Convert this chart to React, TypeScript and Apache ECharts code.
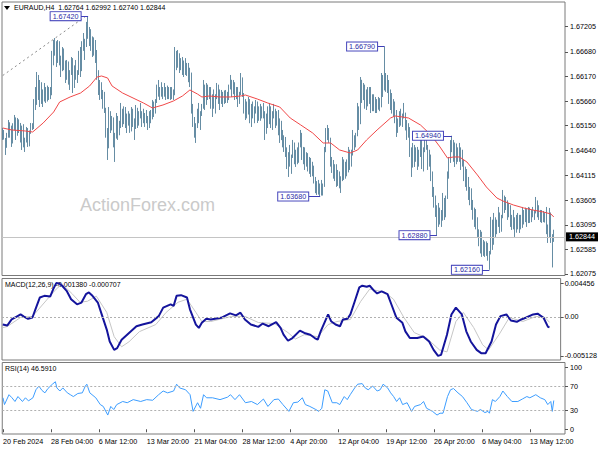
import React, { useEffect, useRef } from "react";
import * as echarts from "echarts";

const FONT = "Liberation Sans";
const BAR = "#55809a";

// layout of the time axis: 376 H4 slots, a label every 32 bars
const N_SLOTS = 376;
const LABEL_STEP = 32;
const xLabels = [
  "20 Feb 2024", "28 Feb 04:00", "6 Mar 12:00", "13 Mar 20:00", "21 Mar 04:00", "28 Mar 12:00",
  "4 Apr 20:00", "12 Apr 04:00", "19 Apr 12:00", "26 Apr 20:00", "6 May 04:00", "13 May 12:00",
];

// price-axis tick labels
const priceTicks = [1.62075, 1.62585, 1.63095, 1.63605, 1.64115, 1.6464, 1.6515, 1.6566, 1.6617, 1.6668, 1.67205];
const macdTicks = [-0.005128, 0, 0.004456];
const rsiTicks = [0, 30, 70, 100];
const lastPrice = 1.62844;

// EURAUD H4 bars: [open, high, low, close], in 1e-5 above 1.6 (e.g. 2844 = 1.62844)
const bars = [
  [5020,5101,4853,4910],[4910,5060,4860,4880],[4880,4894,4542,4700],[4700,5000,4690,4950],[4950,5267,4900,5180],[5180,5220,4900,4960],[4960,5150,4708,4800],[4800,5200,4780,5150],
  [5150,5371,5050,5250],[5250,5320,4853,4950],[4950,5309,4940,5200],[5200,5280,4997,5050],[5050,5205,4800,4900],[4900,5150,4645,5100],[5100,5180,4700,4750],[4750,4900,4604,4850],
  [4850,5122,4800,5050],[5050,5100,4708,4800],[4800,5050,4720,5000],[5000,5205,4980,5150],[5150,5200,5060,5100],[5100,5700,5080,5620],[5620,5950,5474,5600],[5600,6262,5580,6100],
  [6100,6200,5682,5800],[5800,6096,5536,5950],[5950,6050,5600,5700],[5700,5900,5536,5850],[5850,6034,5650,5750],[5750,5950,5620,5900],[5900,5980,5650,5700],[5700,5950,5682,5900],
  [5900,5950,5700,5800],[5800,6700,5780,6600],[6600,6925,6400,6800],[6800,6966,6600,6650],[6650,6900,6366,6500],[6500,6925,6450,6850],[6850,6900,6400,6450],[6450,6600,6158,6300],
  [6300,6780,6280,6700],[6700,6750,6300,6400],[6400,6500,6034,6150],[6150,6511,6100,6450],[6450,6480,6000,6050],[6050,6300,5889,6250],[6250,6573,6200,6500],[6500,6550,5826,5950],
  [5950,6400,5930,6350],[6350,6511,6100,6150],[6150,6300,6034,6250],[6250,6700,6200,6650],[6650,6780,6158,6300],[6300,6900,6280,6850],[6850,7070,6700,6800],[6800,6950,6511,6900],
  [6900,7300,6780,7200],[7200,7420,6950,7050],[7050,7195,6800,7100],[7100,7150,6700,6800],[6800,7000,6573,6950],[6950,6980,6600,6700],[6700,6925,6449,6550],[6550,6718,6100,6200],
  [6200,6300,5785,5900],[5900,6096,5682,6000],[6000,6050,5700,5750],[5750,5889,5500,5800],[5800,5850,5412,5500],[5500,5520,4900,5000],[5000,5100,4438,4700],[4700,5536,4680,5400],
  [5400,5450,4997,5100],[5100,5350,5050,5300],[5300,5320,4700,4800],[4800,5000,4397,4900],[4900,5412,4880,5300],[5300,5350,4853,5000],[5000,5250,4950,5150],[5150,5620,5100,5450],
  [5450,5500,5122,5200],[5200,5550,5180,5500],[5500,5536,5100,5150],[5150,5400,4997,5350],[5350,5450,5150,5250],[5250,5400,5000,5050],[5050,5536,5030,5450],[5450,5500,5122,5200],
  [5200,5300,4853,5100],[5100,5578,5080,5500],[5500,5520,5101,5200],[5200,5450,5150,5400],[5400,5620,5300,5350],[5350,5450,5122,5300],[5300,5500,5200,5250],[5250,5412,5122,5350],
  [5350,5474,5200,5250],[5250,5350,5060,5150],[5150,5450,5100,5400],[5400,5474,5200,5300],[5300,5682,5280,5600],[5600,5650,5329,5450],[5450,5700,5400,5650],[5650,6000,5620,5900],
  [5900,6096,5750,5800],[5800,5950,5682,5900],[5900,6050,5750,5800],[5800,5950,5700,5900],[5900,6034,5750,5800],[5800,5950,5682,5900],[5900,5980,5700,5750],[5750,5950,5700,5900],
  [5900,5950,5682,5750],[5750,5950,5700,5850],[5850,5900,5682,5800],[5800,6780,5780,6600],[6600,6700,6300,6400],[6400,6718,6350,6600],[6600,6650,6241,6350],[6350,6550,6300,6450],
  [6450,6573,6200,6300],[6300,6500,6158,6450],[6450,6550,6200,6250],[6250,6450,6180,6350],[6350,6449,6050,6100],[6100,6350,5950,6200],[6200,6250,5400,5500],[5500,5600,5122,5300],
  [5300,5329,4900,5000],[5000,5200,4791,5150],[5150,5500,5100,5400],[5400,5620,5200,5300],[5300,5450,5060,5400],[5400,5600,5350,5550],[5550,6096,5500,5950],[5950,6000,5474,5600],
  [5600,6034,5580,5950],[5950,6000,5682,5800],[5800,5950,5700,5900],[5900,5950,5500,5600],[5600,5800,5329,5700],[5700,5900,5500,5550],[5550,5800,5400,5750],[5750,6034,5700,5950],
  [5950,6000,5600,5650],[5650,5900,5474,5800],[5800,5889,5600,5700],[5700,5850,5536,5800],[5800,5880,5600,5650],[5650,5889,5620,5800],[5800,5850,5620,5700],[5700,6000,5680,5950],
  [5950,6200,5900,6050],[6050,6100,5744,5850],[5850,6096,5800,6000],[6000,6050,5682,5750],[5750,5950,5700,5900],[5900,5950,5536,5650],[5650,5850,5600,5800],[5800,6241,5780,6100],
  [6100,6150,5744,5800],[5800,5826,5400,5500],[5500,5700,5267,5600],[5600,5650,5300,5400],[5400,5744,5380,5650],[5650,5700,5200,5300],[5300,5600,5122,5500],[5500,5650,5300,5400],
  [5400,5550,5200,5450],[5450,5682,5400,5600],[5600,5650,5205,5300],[5300,5550,5250,5500],[5500,5600,5250,5350],[5350,5550,5300,5450],[5450,5620,5300,5400],[5400,5450,4853,5000],
  [5000,5400,4980,5300],[5300,5550,5100,5200],[5200,5620,5180,5500],[5500,5550,5100,5200],[5200,5450,5060,5350],[5350,5600,5300,5450],[5450,5500,5100,5200],[5200,5450,5150,5350],
  [5350,5474,4950,5000],[5000,5300,4791,5200],[5200,5250,4850,4950],[4950,5060,4700,4800],[4800,4950,4604,4700],[4700,4915,4500,4600],[4600,4700,4250,4350],[4350,4600,4086,4500],
  [4500,4750,4300,4400],[4400,4550,4150,4500],[4500,4853,4480,4750],[4750,4800,4350,4450],[4450,4650,4293,4600],[4600,4700,4350,4400],[4400,4800,4380,4750],[4750,5060,4700,4950],
  [4950,5000,4438,4550],[4550,4708,4350,4650],[4650,4700,4231,4350],[4350,4600,4300,4550],[4550,4580,4200,4300],[4300,4500,4150,4450],[4450,4480,4086,4200],[4200,4400,4100,4300],
  [4300,4320,3950,4050],[4050,4086,3750,3850],[3850,4000,3713,3950],[3950,4024,3720,3800],[3800,3950,3680,3900],[3900,4024,3700,3750],[3750,3950,3700,3900],[3900,4708,3880,4650],
  [4650,5100,4600,5000],[5000,5164,4850,4950],[4950,5100,4791,4850],[4850,4900,4300,4400],[4400,4500,4169,4300],[4300,4438,4050,4150],[4150,4350,4000,4300],[4300,4350,3879,3950],
  [3950,4231,3900,4150],[4150,4200,3850,3900],[3900,4100,3754,4050],[4050,4500,4000,4400],[4400,4450,4024,4100],[4100,4400,4050,4350],[4350,4450,4100,4200],[4200,4708,4180,4600],
  [4600,4650,4231,4350],[4350,4650,4300,4550],[4550,5060,4530,4900],[4900,4950,4645,4750],[4750,5000,4700,4950],[4950,5620,4930,5500],[5500,5550,5060,5200],[5200,6158,5180,6000],
  [6000,6100,5620,5700],[5700,6034,5680,5950],[5950,6000,5500,5600],[5600,5900,5474,5850],[5850,5950,5550,5650],[5650,5950,5600,5900],[5900,5950,5412,5500],[5500,5800,5450,5750],
  [5750,5800,5450,5550],[5550,5744,5412,5650],[5650,5700,5412,5500],[5500,5744,5480,5700],[5700,5720,5450,5550],[5550,6241,5530,6100],[6100,6200,5744,5900],[5900,6790,5880,6200],
  [6200,6241,5850,6100],[6100,6200,5826,5950],[5950,6096,5600,5700],[5700,5900,5474,5800],[5800,5826,5400,5500],[5500,5700,5329,5600],[5600,5650,5200,5300],[5300,5474,4915,5050],
  [5050,5300,5000,5200],[5200,5450,5122,5400],[5400,5500,5150,5250],[5250,5400,5122,5350],[5350,5620,5300,5400],[5400,5420,5050,5150],[5150,5267,4853,5000],[5000,5200,4900,5100],
  [5100,5120,4500,4600],[4600,4700,4086,4300],[4300,4791,4280,4700],[4700,4750,4293,4450],[4450,4700,4400,4600],[4600,4708,4231,4350],[4350,4650,4300,4550],[4550,4900,4500,4850],
  [4850,4900,4250,4300],[4300,4700,4200,4650],[4650,4915,4600,4750],[4750,4997,4650,4700],[4700,4750,4231,4350],[4350,4650,4300,4500],[4500,4550,4000,4100],[4100,4200,3671,3800],
  [3800,3879,3450,3600],[3600,3700,3257,3400],[3400,3500,2880,3300],[3300,3547,3050,3150],[3150,3450,3100,3350],[3350,3400,3050,3200],[3200,3754,3180,3600],[3600,3650,3195,3300],
  [3300,3700,3250,3650],[3650,4200,3630,4100],[4100,4500,4050,4450],[4450,4850,4376,4700],[4700,4940,4600,4800],[4800,4853,4400,4500],[4500,4800,4293,4700],[4700,4780,4350,4450],
  [4450,4700,4400,4650],[4650,4791,4400,4500],[4500,4700,4231,4600],[4600,4650,4300,4350],[4350,4438,4000,4100],[4100,4300,3879,4200],[4200,4250,3800,3900],[3900,4086,3609,3700],
  [3700,3879,3500,3800],[3800,3850,3402,3500],[3500,3609,3200,3300],[3300,3450,3050,3400],[3400,3420,3000,3100],[3100,3250,2842,2950],[2950,3000,2650,2750],[2750,2987,2500,2900],
  [2900,2950,2428,2550],[2550,2780,2450,2700],[2700,2750,2428,2500],[2500,2750,2450,2650],[2650,2718,2350,2450],[2450,2550,2160,2500],[2500,3257,2480,3150],[3150,3200,2573,2700],
  [2700,3340,2680,3200],[3200,3250,2842,2950],[2950,3200,2900,3100],[3100,3464,3050,3300],[3300,3350,2925,3000],[3000,3300,2950,3250],[3250,3816,3230,3600],[3600,3700,3340,3450],
  [3450,3671,3400,3550],[3550,3600,3195,3300],[3300,3547,3250,3450],[3450,3500,3050,3150],[3150,3300,2987,3250],[3250,3402,3000,3100],[3100,3250,2842,2950],[2950,3300,2930,3200],
  [3200,3340,3000,3100],[3100,3300,2925,3250],[3250,3300,3000,3050],[3050,3464,3030,3350],[3350,3400,3100,3200],[3200,3450,3150,3400],[3400,3420,3050,3150],[3150,3464,3130,3400],
  [3400,3450,3133,3250],[3250,3400,3150,3350],[3350,3464,3250,3300],[3300,3400,3195,3350],[3350,3671,3330,3550],[3550,3600,3250,3350],[3350,3500,3195,3400],[3400,3402,3150,3250],
  [3250,3400,3133,3350],[3350,3380,3150,3200],[3200,3350,3140,3300],[3300,3464,2900,3000],[3000,3100,2718,2850],[2850,3443,2830,3300],[3300,3350,2718,2800],[2800,2900,2210,2764],
  [2764,2992,2740,2844],
];

// red moving average, read at [bar index, value in 1e-5 above 1.6]
const maPoints = [
  [0,5101],[6,5060],[15,5039],[20,5018],[27,5205],[34,5433],[38,5640],[45,5744],[52,5827],[58,5972],[63,6158],[66,6179],[70,6138],
  [73,5972],[80,5827],[87,5723],[94,5619],[100,5516],[107,5578],[114,5661],[120,5764],[125,5889],[130,5806],[133,5744],[138,5764],
  [145,5744],[152,5744],[159,5764],[162,5785],[170,5702],[177,5619],[185,5536],[192,5308],[199,5164],[207,4997],[214,4790],[219,4790],
  [225,4645],[232,4583],[237,4645],[243,4853],[250,5060],[259,5308],[262,5350],[267,5329],[271,5308],[279,5163],[286,4956],[292,4708],
  [297,4479],[301,4500],[305,4500],[310,4396],[317,4127],[323,3878],[330,3650],[334,3588],[341,3505],[348,3443],[354,3401],[361,3360],
  [366,3319],[368,3257],
];

// dotted trend line [bar index, price]
const trendline = [[0, 1.66189], [55, 1.67408]];

// zigzag swing labels
const zzLabels = ["1.67420", "1.66790", "1.63680", "1.64940", "1.62880", "1.62160"];
const zzPrices = [1.6742, 1.6679, 1.6368, 1.6494, 1.6288, 1.6216];
const zzFrom = [52, 250, 204, 294, 285, 320];
const zzTo = [57, 255, 212, 300, 290, 325];

// MACD(12,26,9) main line [bar index, value]
const macdMain = [
  [0,-0.001],[3,-0.00113],[6,-0.00033],[10,0.00011],[12,0.00033],[14,0.00007],[17,-0.00024],[20,-0.00007],[22,0.001],[25,0.00256],
  [28,0.00277],[32,0.00269],[34,0.00366],[36,0.00445],[38,0.0044],[40,0.0041],[43,0.00343],[46,0.00233],[50,0.00166],[53,0.00189],
  [56,0.00299],[58,0.00322],[60,0.00286],[64,0.00189],[67,0.00011],[70,-0.00166],[72,-0.00322],[75,-0.00433],[77,-0.0041],[80,-0.00299],
  [85,-0.0021],[90,-0.00122],[94,-0.001],[100,-0.00069],[105,0.00011],[108,0.00122],[113,0.00166],[115,0.00144],[117,0.00277],[120,0.00286],
  [124,0.00256],[126,0.001],[130,-0.001],[132,-0.00144],[134,-0.00077],[137,-0.00024],[140,-0.00033],[147,-0.00011],[153,0.00047],[157,0.0002],
  [160,0.00056],[163,-0.00033],[167,-0.001],[172,-0.0013],[175,-0.00087],[179,-0.00122],[184,-0.00069],[187,-0.00144],[189,-0.00233],[192,-0.00313],
  [195,-0.00277],[200,-0.0018],[203,-0.0021],[207,-0.00233],[210,-0.00277],[212,-0.00299],[214,-0.00189],[217,-0.00056],[219,0.00033],[221,-0.00056],
  [224,-0.001],[227,-0.00122],[229,-0.00033],[232,-0.00024],[234,0.00033],[237,0.0021],[240,0.00389],[242,0.0041],[245,0.00397],[247,0.0041],
  [250,0.00343],[252,0.00309],[255,0.00335],[259,0.00299],[262,0.00144],[265,-0.00011],[269,-0.00077],[271,-0.00189],[274,-0.00277],[279,-0.00277],
  [283,-0.00256],[287,-0.00322],[290,-0.00433],[293,-0.00512],[295,-0.00499],[299,-0.00233],[302,0.00033],[305,0.00122],[309,0.00033],[312,-0.00189],
  [315,-0.00322],[319,-0.00433],[322,-0.00476],[325,-0.00476],[329,-0.00322],[332,-0.001],[335,0.00011],[339,0.00033],[342,-0.00047],[346,-0.00064],
  [349,-0.00033],[352,-0.00011],[357,0.00033],[360,0.00043],[364,-0.00011],[367,-0.0013],[368,-0.00138],
];

// MACD signal line [bar index, value]
const macdSignal = [
  [0,-0.0014],[3,-0.00126],[12,-0.00007],[20,0.00007],[30,0.00233],[36,0.00366],[40,0.00432],[47,0.00299],[52,0.00193],[57,0.00206],
  [63,0.00273],[70,0.0006],[75,-0.00259],[80,-0.00392],[85,-0.00326],[92,-0.00193],[103,-0.001],[110,0.0006],[118,0.00193],[124,0.00233],
  [130,0.0006],[134,-0.0006],[140,-0.0006],[154,0.00007],[163,0.00007],[172,-0.00073],[183,-0.00087],[192,-0.00206],[197,-0.0029],[203,-0.00233],
  [212,-0.00259],[219,-0.001],[225,-0.0006],[234,-0.00033],[241,0.00206],[247,0.00366],[257,0.00326],[263,0.00233],[270,-0.00007],[277,-0.00206],
  [285,-0.00273],[294,-0.00433],[299,-0.00459],[305,-0.0006],[310,0.0006],[317,-0.0014],[323,-0.00366],[327,-0.00433],[334,-0.00233],[341,-0.00007],
  [350,-0.0006],[359,0.00007],[365,-0.00007],[368,-0.000707],
];

// RSI(14) [bar index, value]
const rsi = [
  [0,51],[1,40],[4,56],[6,51],[8,45],[10,53],[13,45],[15,51],[17,46],[20,51],[22,64],[24,70],[26,63],[28,59],[30,66],[33,73],[35,77],
  [36,67],[38,62],[40,67],[43,59],[45,56],[47,53],[50,58],[53,59],[55,70],[56,73],[58,59],[62,51],[65,40],[67,37],[70,23],[72,37],
  [74,32],[76,40],[80,45],[83,43],[87,48],[92,45],[96,48],[100,47],[104,56],[107,62],[110,59],[114,62],[116,73],[118,67],[122,64],
  [125,56],[127,29],[130,43],[132,34],[134,56],[136,51],[140,51],[145,48],[150,52],[152,56],[155,48],[158,56],[162,43],[166,45],
  [170,40],[174,49],[177,37],[181,48],[184,49],[187,40],[191,29],[194,43],[197,44],[200,51],[202,40],[205,37],[209,32],[211,29],
  [213,34],[215,64],[217,62],[220,43],[223,43],[225,40],[228,53],[230,48],[232,56],[235,67],[237,73],[240,74],[242,67],[244,64],
  [247,70],[250,62],[252,64],[254,73],[257,67],[259,59],[261,53],[263,45],[265,51],[267,40],[270,43],[273,29],[275,37],[279,40],
  [281,45],[283,34],[287,29],[290,23],[292,26],[294,26],[297,53],[299,64],[301,66],[304,59],[307,53],[310,43],[313,32],[317,29],
  [319,32],[322,27],[324,29],[325,26],[327,48],[329,45],[332,53],[334,62],[337,53],[340,45],[344,45],[347,49],[350,53],[352,51],
  [356,56],[359,51],[362,48],[364,40],[366,45],[367,29],[368,46.591],
];

const toPrice = (v: number) => Math.round((1.6 + v / 100000) * 100000) / 100000;
const isLabelIdx = (i: number) => i % LABEL_STEP === 0 && i / LABEL_STEP < xLabels.length;
const categories = Array.from({ length: N_SLOTS }, (_, i) =>
  isLabelIdx(i) ? xLabels[i / LABEL_STEP] : String(i)
);

const textBase = { fontFamily: FONT, fontSize: 7.2, color: "#000" };

function buildOption() {
  const baseX = {
    type: "category",
    data: categories,
    boundaryGap: true,
    axisLine: { show: false },
    axisTick: { show: false },
    axisLabel: { show: false },
    splitLine: { show: false },
  };
  const gridStyle = { show: true, borderColor: "#7a7a7a", borderWidth: 1, left: 2, width: 563 };

  const zzMarks = zzLabels.map((lab, k) => [
    {
      coord: [zzFrom[k], zzPrices[k]],
      lineStyle: { color: "#3e3eb8", width: 1, type: "solid" },
      label: {
        show: true,
        position: "start",
        distance: 0,
        formatter: lab,
        color: "#2a2aa6",
        backgroundColor: "#fff",
        borderColor: "#4646bc",
        borderWidth: 1,
        padding: [1, 2, 0, 2],
        fontSize: 7.2,
        fontFamily: FONT,
      },
    },
    { coord: [zzTo[k], zzPrices[k]] },
  ]);

  return {
    animation: false,
    backgroundColor: "#fff",
    grid: [
      { ...gridStyle, top: 2, height: 273.5 },
      { ...gridStyle, top: 278.5, height: 81.5 },
      { ...gridStyle, top: 362.5, height: 71.5 },
    ],
    xAxis: [
      { ...baseX, gridIndex: 0 },
      { ...baseX, gridIndex: 1 },
      {
        ...baseX,
        gridIndex: 2,
        axisTick: { show: true, alignWithLabel: true, interval: (i: number) => isLabelIdx(i), length: 3, lineStyle: { color: "#555" } },
        axisLabel: { show: true, interval: (i: number) => isLabelIdx(i), align: "left", margin: 4, ...textBase },
      },
    ],
    yAxis: [
      {
        type: "value", gridIndex: 0, position: "right", min: 1.62043, max: 1.67713,
        splitLine: { show: false }, axisLine: { show: false },
        axisTick: { show: true, length: 3, customValues: priceTicks, lineStyle: { color: "#555" } },
        axisLabel: { customValues: priceTicks, formatter: (v: number) => v.toFixed(5), margin: 5, ...textBase },
      },
      {
        type: "value", gridIndex: 1, position: "right", min: -0.005657, max: 0.005051,
        splitLine: { show: false }, axisLine: { show: false },
        axisTick: { show: true, length: 3, customValues: macdTicks, lineStyle: { color: "#555" } },
        axisLabel: { customValues: macdTicks, formatter: (v: number) => (v === 0 ? "0.00" : v.toFixed(6)), margin: 4, ...textBase },
      },
      {
        type: "value", gridIndex: 2, position: "right", min: -7.7, max: 108.2,
        splitLine: { show: false }, axisLine: { show: false },
        axisTick: { show: true, length: 3, customValues: rsiTicks, lineStyle: { color: "#555" } },
        axisLabel: { customValues: rsiTicks, formatter: (v: number) => String(v), margin: 5, ...textBase },
      },
    ],
    graphic: [
      { type: "polygon", shape: { points: [[4, 6], [10, 6], [7, 10]] }, style: { fill: "#000" } },
      { type: "text", left: 14, top: 4, style: { text: "EURAUD,H4  1.62764 1.62992 1.62740 1.62844", fill: "#000", fontSize: 7, fontFamily: FONT } },
      { type: "text", left: 5, top: 281, style: { text: "MACD(12,26,9) -0.001380 -0.000707", fill: "#000", fontSize: 7, fontFamily: FONT } },
      { type: "text", left: 5, top: 365, style: { text: "RSI(14) 46.5910", fill: "#000", fontSize: 7, fontFamily: FONT } },
      { type: "text", left: 80, top: 196, style: { text: "ActionForex.com", fill: "#cacaca", fontSize: 18, fontFamily: FONT } },
    ],
    series: [
      {
        type: "candlestick",
        xAxisIndex: 0,
        yAxisIndex: 0,
        data: bars.map(([o, h, l, c]) => [toPrice(o), toPrice(c), toPrice(l), toPrice(h)]),
        barWidth: 0.6,
        barMinWidth: 0.5,
        itemStyle: { color: BAR, color0: BAR, borderColor: BAR, borderColor0: BAR, borderWidth: 0.9 },
      },
      {
        type: "line",
        xAxisIndex: 0,
        yAxisIndex: 0,
        data: trendline,
        symbol: "none",
        lineStyle: { color: "#8a8a8a", width: 1, type: [2, 3] },
      },
      {
        type: "line",
        xAxisIndex: 0,
        yAxisIndex: 0,
        data: maPoints.map(([i, v]) => [i, toPrice(v)]),
        symbol: "none",
        lineStyle: { color: "#f04848", width: 1 },
        markLine: {
          silent: true,
          precision: 6,
          symbol: ["none", "none"],
          data: [
            {
              yAxis: lastPrice,
              lineStyle: { color: "#c4c4c4", width: 1, type: "solid" },
              label: {
                show: true, position: "end", distance: 1, formatter: lastPrice.toFixed(5),
                color: "#fff", backgroundColor: "#000", padding: [1, 3, 1, 3], fontSize: 7.2, fontFamily: FONT,
              },
            },
            ...zzMarks,
          ],
        },
      },
      {
        type: "line",
        xAxisIndex: 1,
        yAxisIndex: 1,
        data: macdSignal,
        symbol: "none",
        lineStyle: { color: "#c6c6c6", width: 1 },
        markLine: {
          silent: true,
          precision: 6,
          symbol: ["none", "none"],
          label: { show: false },
          lineStyle: { color: "#b0b0b0", width: 1, type: [2, 2] },
          data: [{ yAxis: 0 }],
        },
      },
      {
        type: "line",
        xAxisIndex: 1,
        yAxisIndex: 1,
        data: macdMain,
        symbol: "none",
        lineStyle: { color: "#14149c", width: 2 },
      },
      {
        type: "line",
        xAxisIndex: 2,
        yAxisIndex: 2,
        data: rsi,
        symbol: "none",
        lineStyle: { color: "#3c9dff", width: 1 },
        markLine: {
          silent: true,
          symbol: ["none", "none"],
          label: { show: false },
          lineStyle: { color: "#b0b0b0", width: 1, type: [2, 2] },
          data: [{ yAxis: 30 }, { yAxis: 70 }],
        },
      },
    ],
  };
}

export default function App() {
  const ref = useRef<HTMLDivElement>(null);
  useEffect(() => {
    if (!ref.current) return;
    const chart = echarts.init(ref.current, null, { renderer: "svg" });
    chart.setOption(buildOption() as any);
    return () => chart.dispose();
  }, []);
  return (
    <div
      ref={ref}
      style={{ position: "absolute", left: 0, top: 0, width: 600, height: 450, background: "#fff" }}
    />
  );
}
